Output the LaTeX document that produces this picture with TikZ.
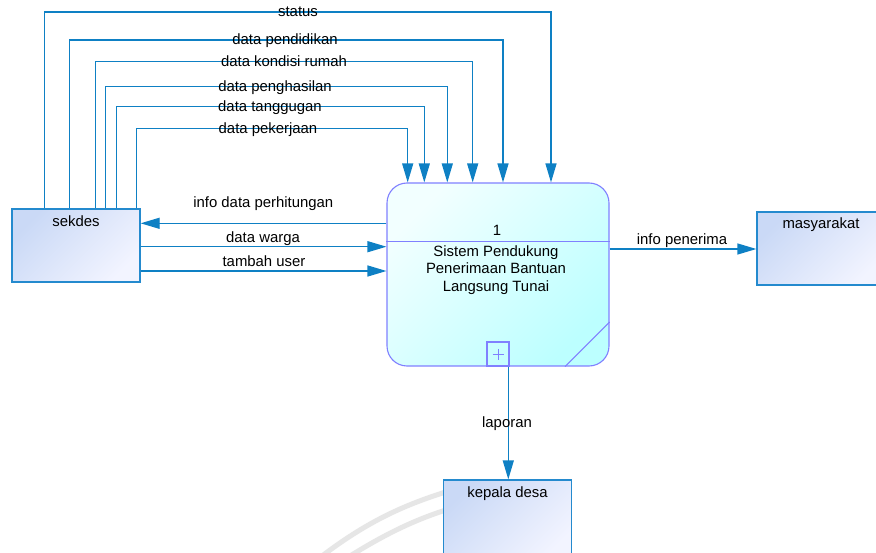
\documentclass[tikz,border=0pt]{standalone}
\usepackage{fontspec}
\setmainfont{Liberation Sans}
\usetikzlibrary{arrows.meta}
\definecolor{flowblue}{RGB}{14,128,196}
\definecolor{entborder}{RGB}{36,138,206}
\definecolor{enttop}{RGB}{202,217,246}
\definecolor{entbottom}{RGB}{242,244,255}
\definecolor{procborder}{RGB}{128,128,255}
\definecolor{proctop}{RGB}{242,255,255}
\definecolor{procbottom}{RGB}{188,255,255}
\definecolor{markgray}{RGB}{230,230,230}
\begin{document}
\begin{tikzpicture}[x=1pt,y=-1pt,
  font=\fontsize{14.9}{17.5}\selectfont,
  flow/.style={draw=flowblue, line width=1.3pt, -{Triangle[length=19pt,width=11pt]}},
  entity/.style={draw=entborder, line width=1.3pt, rectangle, minimum width=128pt,
    minimum height=73pt, inner sep=0pt, top color=enttop, bottom color=entbottom,
    shading angle=45},
  procbox/.style={draw=procborder, line width=1.1pt, rectangle, rounded corners=20pt,
    minimum width=222pt, minimum height=183pt, inner sep=0pt,
    top color=proctop, bottom color=procbottom, shading angle=45},
  procline/.style={draw=procborder, line width=1.1pt},
  lbl/.style={inner sep=0pt, anchor=base, text=black}
]
\useasboundingbox (0,0) rectangle (876,553);
\clip (0,0) rectangle (876,553);
\fill[white] (0,0) rectangle (876,553);

% faint background arcs
\draw[markgray, line width=5pt] (322,556) .. controls (372,518) and (410,503) .. (452,490);
\draw[markgray, line width=5pt] (350,556) .. controls (392,530) and (420,518) .. (452,508);

% external entities
\node[entity] (sekdes) at (76,245.5) {};
\node[lbl] (tsekdes) at (76,226.5) {sekdes};
\node[entity] (masy) at (821,248.5) {};
\node[lbl] (tmasy) at (821,229) {masyarakat};
\node[entity, minimum height=82pt] (kades) at (507.5,521) {};
\node[lbl] (tkades) at (507.5,497) {kepala desa};

% process
\node[procbox] (proc) at (498,274.5) {};
\draw[procline] (proc.west |- 0,241.7) -- (proc.east |- 0,241.7);
\draw[procline] (proc.east |- 0,322) -- (proc.south -| 565,0);
\node[draw=procborder, line width=1.1pt, minimum width=22pt, minimum height=24pt,
  inner sep=0pt] (plusbox) at (498,354) {};
\draw[procline, line width=0.9pt] (492.5,354.5) -- (504,354.5) (498.3,349) -- (498.3,360);
\node[lbl] (pnum) at (497,236) {1};
\node[lbl, align=center, anchor=north] (pname) at (496,245.5)
  {Sistem Pendukung\\Penerimaan Bantuan\\Langsung Tunai};

% data flows from sekdes into the process
\draw[flow] (sekdes.north -| 44.4,0) |- (551,12) -- (proc.north -| 551,0);
\draw[flow] (sekdes.north -| 69.8,0) |- (503,40) -- (proc.north -| 503,0);
\draw[flow] (sekdes.north -| 95.5,0) |- (472.7,61.3) -- (proc.north -| 472.7,0);
\draw[flow] (sekdes.north -| 105.5,0) |- (447.3,86.3) -- (proc.north -| 447.3,0);
\draw[flow] (sekdes.north -| 116.7,0) |- (424.3,106.7) -- (proc.north -| 424.3,0);
\draw[flow] (sekdes.north -| 136.5,0) |- (407.7,128.3) -- (proc.north -| 407.7,0);

\node[lbl] (lstatus) at (298,16.7) {status};
\node[lbl] (lpend) at (285,45) {data pendidikan};
\node[lbl] (lrumah) at (284,66.3) {data kondisi rumah};
\node[lbl] (lhasil) at (275,91.3) {data penghasilan};
\node[lbl] (ltangg) at (270,111.7) {data tanggugan};
\node[lbl] (lkerja) at (268,133.3) {data pekerjaan};

\draw[flow] (proc.west |- 0,223.3) -- (sekdes.east |- 0,223.3);
\draw[flow] (sekdes.east |- 0,246.7) -- (proc.west |- 0,246.7);
\draw[flow] (sekdes.east |- 0,271) -- (proc.west |- 0,271);
\node[lbl] (linfo) at (263.3,207.7) {info data perhitungan};
\node[lbl] (lwarga) at (263,242.3) {data warga};
\node[lbl] (luser) at (264,266.3) {tambah user};

% outputs
\draw[flow] (proc.east |- 0,249) -- (masy.west |- 0,249);
\node[lbl] (lpener) at (682,245) {info penerima};
\draw[flow] (proc.south -| 508.3,0) -- (kades.north -| 508.3,0);
\node[lbl] (llap) at (507,427.3) {laporan};
\end{tikzpicture}
\end{document}
